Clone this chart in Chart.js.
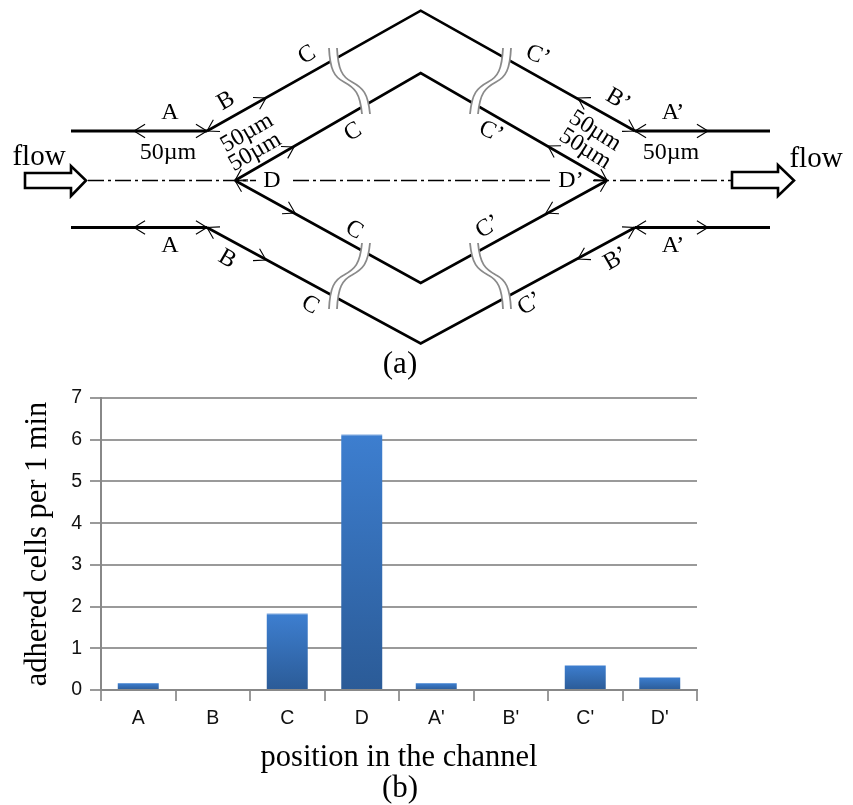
<!DOCTYPE html>
<html><head><meta charset="utf-8">
<style>html,body{margin:0;padding:0;background:#fff}canvas{display:block}</style>
<script src="https://cdn.jsdelivr.net/npm/chart.js@4"></script>
</head><body>
<canvas id="c" width="853" height="805"></canvas>
<script>
const categories = ['A','B','C','D',"A'","B'","C'","D'"];
const adheredCells = [0.16,0,1.84,6.13,0.16,0,0.59,0.30];
const yTicks = [0,1,2,3,4,5,6,7];
const yTitle = 'adhered cells per 1 min';
const xTitle = 'position in the channel';

const SERIF = '"Liberation Serif"';
const INK = '#111';

function diagram(ctx){
  ctx.save();
  ctx.lineCap='butt'; ctx.lineJoin='miter'; ctx.strokeStyle='#000';
  const line=(pts,w)=>{ctx.lineWidth=w;ctx.beginPath();pts.forEach((p,i)=>i?ctx.lineTo(p[0],p[1]):ctx.moveTo(p[0],p[1]));ctx.stroke();};
  // channel walls
  [[[71,131],[207,131]],[[635,131],[770,131]],[[71,227.5],[207,227.5]],[[635,227.5],[770,227.5]]].forEach(s=>line(s,3));
  [[[207,131],[420.7,10.7],[635,131]],
   [[235,180.5],[420.7,73],[607,180.5]],
   [[235,180.5],[420.7,283],[607,180.5]],
   [[207,227.5],[420.7,343.5],[635,227.5]]].forEach(s=>line(s,2.6));
  // centre line
  ctx.setLineDash([16,4,3,4]);
  [[[88,180.5],[256,180.5]],[[293,180.5],[550,180.5]],[[593,180.5],[732,180.5]]].forEach(s=>line(s,1.5));
  ctx.setLineDash([]);
  // break marks
  const wave=(cx,cy,sx,sy)=>{
    const path=(o)=>{ctx.beginPath();
      ctx.moveTo(cx+sx*(-17+o),cy+sy*(-33));
      ctx.bezierCurveTo(cx+sx*(-16+o),cy+sy*(-12),cx+sx*(-12+o),cy+sy*(-4),cx+sx*(-2+o),cy+sy*1);
      ctx.bezierCurveTo(cx+sx*(9+o),cy+sy*7,cx+sx*(14+o),cy+sy*12,cx+sx*(16+o),cy+sy*33);
      ctx.stroke();};
    ctx.strokeStyle='#fff';ctx.lineWidth=8;path(4);
    ctx.strokeStyle='#8a8a8a';ctx.lineWidth=1.8;path(0);path(8);
  };
  wave(346,81,1,1);
  wave(346,276,1,-1);
  wave(494,81,-1,1);
  wave(494,276,-1,-1);
  ctx.strokeStyle='#000';
  // dimension arrowheads
  const head=(x,y,fx,fy)=>{
    const a=Math.atan2(y-fy,x-fx),L=13,s=0.55;
    ctx.lineWidth=1.1;ctx.beginPath();
    ctx.moveTo(x-L*Math.cos(a-s),y-L*Math.sin(a-s));
    ctx.lineTo(x,y);
    ctx.lineTo(x-L*Math.cos(a+s),y-L*Math.sin(a+s));
    ctx.stroke();
  };
  [[134,131,207,131],[207,131,266,98],[134,227.5,207,227.5],[207,227.5,266,260],
   [235,180.5,294,147],[235,180.5,295,213],
   [708,131,635,131],[635,131,578,98],[708,227.5,635,227.5],[635,227.5,578,259],
   [607,180.5,548,146],[607,180.5,546,213]].forEach(d=>{head(d[0],d[1],d[2],d[3]);head(d[2],d[3],d[0],d[1]);});
  // block arrows
  const block=pts=>{ctx.lineWidth=2.6;ctx.beginPath();pts.forEach((p,i)=>i?ctx.lineTo(p[0],p[1]):ctx.moveTo(p[0],p[1]));ctx.closePath();ctx.fillStyle='#fff';ctx.fill();ctx.stroke();};
  block([[25,173],[71,173],[71,166],[86,180.5],[71,196],[71,188],[25,188]]);
  block([[732,172],[778,172],[778,165],[794,180.5],[778,196],[778,188],[732,188]]);
  // labels
  ctx.fillStyle='#000';ctx.textAlign='center';ctx.textBaseline='middle';
  const t=(s,x,y,deg,size)=>{ctx.save();ctx.translate(x,y);ctx.rotate((deg||0)*Math.PI/180);ctx.font=(size||24)+'px '+SERIF;ctx.fillText(s,0,0);ctx.restore();};
  t('flow',39,157,0,29); t('flow',816,159,0,29);
  t('A',170,113); t('A',170,246); t('A’',673,113); t('A’',673,246);
  t('50µm',168,153); t('50µm',671,153);
  t('B',226,101,-30); t('B',227,259,30); t('B’',618,100,30); t('B’',616,259,-30);
  t('C',307,55,-30); t('C',353,132,-30); t('C',354,230,30); t('C',310,305,30);
  t('C’',538,56,20); t('C’',491,132,25); t('C’',488,227,-30); t('C’',530,304,-30);
  t('50µm',247,133,-30); t('50µm',255,152,-30);
  t('50µm',595,131,32); t('50µm',585,149,32);
  t('D',272,181); t('D’',571,181);
  t('(a)',400,365,0,31); t('(b)',400,789,0,31);
  ctx.restore();
}

new Chart(document.getElementById('c'),{
  type:'bar',
  data:{labels:categories,datasets:[{
    data:adheredCells,
    barPercentage:0.55,categoryPercentage:1,
    backgroundColor(c){
      const ch=c.chart, s=ch.scales.y;
      if(!s||!c.parsed||!c.parsed.y) return '#3a78c6';
      const top=s.getPixelForValue(c.parsed.y), bot=s.getPixelForValue(0);
      if(!isFinite(top)||!isFinite(bot)) return '#3a78c6';
      const g=ch.ctx.createLinearGradient(0,top,0,bot);
      if(bot-top>50){
        g.addColorStop(0,'#b5cdec');
        g.addColorStop(2/(bot-top),'#3d7ecf');
      } else {
        g.addColorStop(0,'#3d7ecf');
      }
      g.addColorStop(1,'#2b5b97');
      return g;
    }
  }]},
  options:{
    responsive:false,animation:false,
    layout:{padding:{left:0,top:398,right:156,bottom:0}},
    plugins:{legend:{display:false},tooltip:{enabled:false}},
    scales:{
      x:{
        afterFit(s){s.height=115;},
        grid:{color:'#9a9a9a',lineWidth:2,drawOnChartArea:false,tickLength:11},
        border:{color:'#888',width:2},
        ticks:{color:INK,font:{family:'"Liberation Sans"',size:19.5},padding:6,maxRotation:0,autoSkip:false},
        title:{display:true,text:xTitle,color:'#000',font:{family:SERIF,size:30.5},padding:{top:0,bottom:28.7}}
      },
      y:{
        min:0,max:7,
        afterFit(s){s.width=101;},
        afterBuildTicks(s){s.ticks=yTicks.map(v=>({value:v}));},
        grid:{color:'#9a9a9a',lineWidth:2,tickLength:11},
        border:{color:'#888',width:2},
        ticks:{color:INK,font:{family:'"Liberation Sans"',size:19.5},padding:8},
        title:{display:true,text:yTitle,color:'#000',font:{family:SERIF,size:30.5},padding:{top:20,bottom:0}}
      }
    }
  },
  plugins:[{id:'channelDiagram',afterDraw(ch){diagram(ch.ctx);}}]
});
</script>
</body></html>
